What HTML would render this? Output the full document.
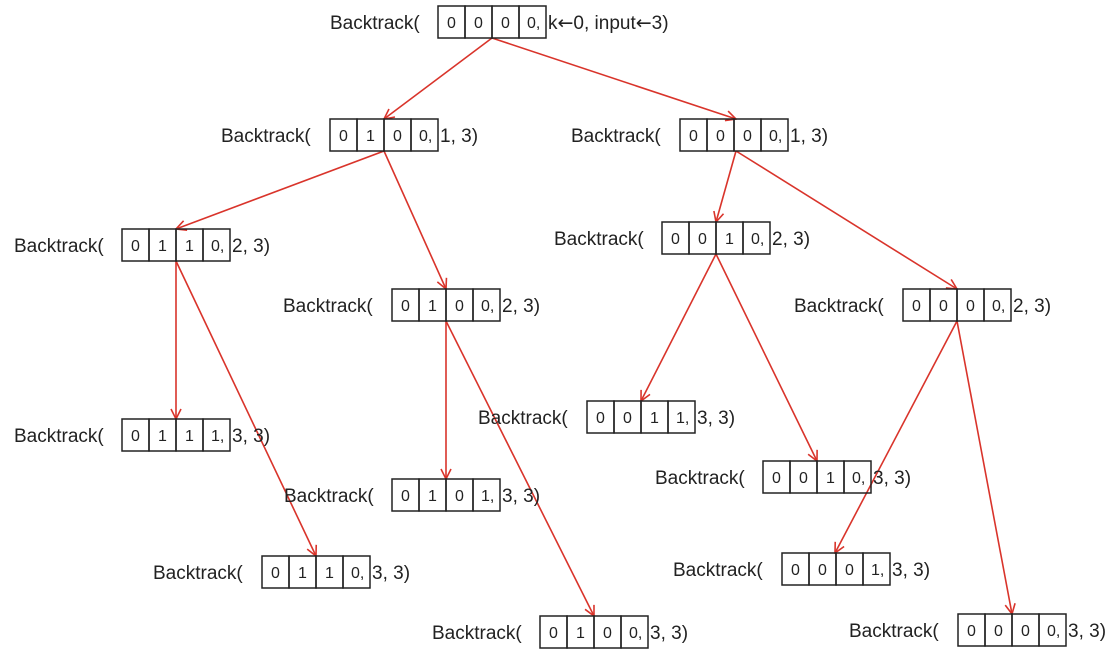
<!DOCTYPE html>
<html><head><meta charset="utf-8"><style>
html,body{margin:0;padding:0;background:#fff;}
svg text{font-family:"Liberation Sans","DejaVu Sans",sans-serif;fill:#222;}
svg text tspan.ar{font-family:"DejaVu Sans",sans-serif;}
</style></head><body>
<svg width="1119" height="653" viewBox="0 0 1119 653" xmlns="http://www.w3.org/2000/svg">
<defs><marker id="a" markerWidth="12" markerHeight="12" refX="11" refY="6" orient="auto" markerUnits="userSpaceOnUse"><path d="M1,1 L11,6 L1,11" fill="none" stroke="#d9342b" stroke-width="1.6"/></marker></defs>
<g id="edges" stroke="#d9342b" stroke-width="1.6" fill="none" marker-end="url(#a)">
<line x1="492" y1="38" x2="384" y2="119"/>
<line x1="492" y1="38" x2="736" y2="119"/>
<line x1="384" y1="151" x2="176" y2="229"/>
<line x1="384" y1="151" x2="446" y2="289"/>
<line x1="736" y1="151" x2="716" y2="222"/>
<line x1="736" y1="151" x2="957" y2="289"/>
<line x1="176" y1="261" x2="176" y2="419"/>
<line x1="176" y1="261" x2="316" y2="556"/>
<line x1="446" y1="321" x2="446" y2="479"/>
<line x1="446" y1="321" x2="594" y2="616"/>
<line x1="716" y1="254" x2="641" y2="401"/>
<line x1="716" y1="254" x2="817" y2="461"/>
<line x1="957" y1="321" x2="835" y2="553"/>
<line x1="957" y1="321" x2="1012" y2="614"/>
</g>
<g id="nodes"></g>
</svg>
<script>
var N=[[330,438,6,"0000",'k<tspan class="ar">\u2190</tspan>0, input<tspan class="ar">\u2190</tspan>3)'],
[221,330,119,"0100","1, 3)"],[571,680,119,"0000","1, 3)"],
[14,122,229,"0110","2, 3)"],[283,392,289,"0100","2, 3)"],
[554,662,222,"0010","2, 3)"],[794,903,289,"0000","2, 3)"],
[14,122,419,"0111","3, 3)"],[284,392,479,"0101","3, 3)"],
[153,262,556,"0110","3, 3)"],[478,587,401,"0011","3, 3)"],
[655,763,461,"0010","3, 3)"],[673,782,553,"0001","3, 3)"],
[432,540,616,"0100","3, 3)"],[849,958,614,"0000","3, 3)"]];
var g=document.getElementById("nodes"),s="";
N.forEach(function(n){var tx=n[0],bx=n[1],by=n[2],d=n[3],suf=n[4];
s+='<text x="'+tx+'" y="'+(by+23)+'" font-size="19">Backtrack(</text>';
for(var i=0;i<4;i++){s+='<rect x="'+(bx+27*i)+'" y="'+by+'" width="27" height="32" fill="none" stroke="#222" stroke-width="1.5"/>';
s+='<text x="'+(bx+27*i+(i==3?8:13.5))+'" y="'+(by+22)+'" font-size="16" '+(i==3?'':'text-anchor="middle"')+'>'+d[i]+(i==3?',':'')+'</text>';}
s+='<text x="'+(bx+110)+'" y="'+(by+23)+'" font-size="19">'+suf+'</text>';});
g.innerHTML=s;
</script>
</body></html>
